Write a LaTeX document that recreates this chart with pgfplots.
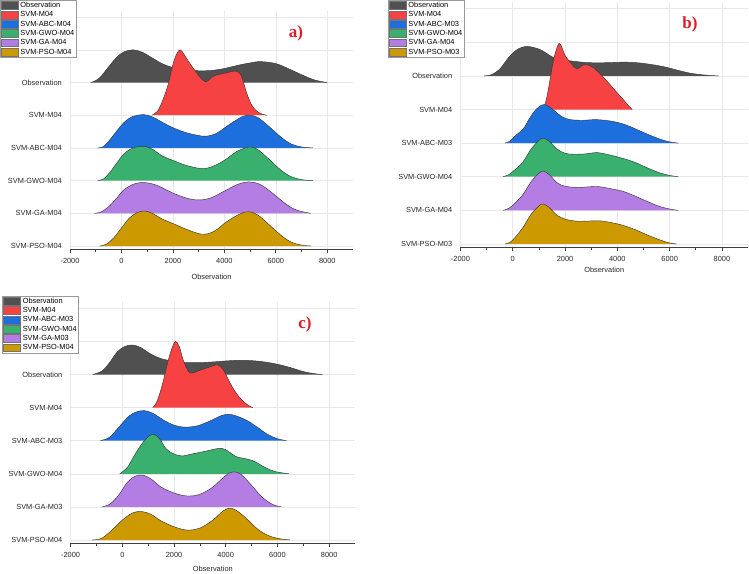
\documentclass[border=0pt]{standalone}
\usepackage{fontspec}
\setmainfont{Liberation Sans}
\newfontfamily\panelfont{Liberation Serif}
\usepackage{pgfplots}
\usepackage{pgfplotstable}
\pgfplotsset{compat=1.18}

\definecolor{cObs}{RGB}{80,80,80}
\definecolor{cM}{RGB}{246,66,66}
\definecolor{cABC}{RGB}{30,111,222}
\definecolor{cGWO}{RGB}{58,176,110}
\definecolor{cGA}{RGB}{180,125,228}
\definecolor{cPSO}{RGB}{205,153,0}
\definecolor{edge}{RGB}{55,55,55}
\definecolor{panelred}{RGB}{220,30,40}

% ---------- panel a ----------
\pgfplotstableread{
x h
-1200 0
-1000 0.06
-800 0.18
-500 0.48
-200 0.76
100 0.94
450 1.0
800 0.93
1200 0.75
1600 0.57
2000 0.46
2500 0.39
3000 0.36
3500 0.37
4000 0.43
4600 0.54
5000 0.6
5400 0.64
6000 0.58
6500 0.42
7000 0.24
7500 0.08
8000 0
}\aObs
\pgfplotstableread{
x h
1180 0
1400 0.12
1600 0.45
1800 0.9
2000 1.55
2150 1.88
2280 2.0
2420 1.88
2600 1.65
2900 1.32
3100 1.12
3290 1.02
3450 1.12
3650 1.22
4100 1.3
4420 1.35
4650 1.22
4850 0.72
5050 0.33
5250 0.13
5450 0.04
5650 0
}\aM
\pgfplotstableread{
x h
-930 0
-700 0.04
-450 0.25
-200 0.5
100 0.78
400 0.95
850 1.02
1200 0.95
1600 0.78
2000 0.62
2500 0.47
3000 0.38
3300 0.36
3700 0.45
4200 0.72
4700 0.96
5000 1.0
5300 0.93
5700 0.68
6200 0.33
6600 0.12
7000 0.03
7450 0
}\aABC
\pgfplotstableread{
x h
-930 0
-700 0.05
-450 0.25
-200 0.52
100 0.82
450 1.0
880 1.05
1200 0.96
1600 0.75
2000 0.62
2500 0.47
3100 0.37
3500 0.42
4000 0.62
4500 0.9
4990 1.03
5300 0.95
5700 0.68
6200 0.32
6600 0.12
7000 0.03
7450 0
}\aGWO
\pgfplotstableread{
x h
-1050 0
-800 0.04
-500 0.2
-200 0.45
100 0.72
500 0.9
920 0.94
1400 0.85
2000 0.62
2600 0.45
3060 0.41
3500 0.48
4000 0.68
4500 0.88
4950 0.96
5400 0.88
5900 0.6
6400 0.28
6800 0.1
7350 0
}\aGA
\pgfplotstableread{
x h
-860 0
-600 0.05
-300 0.25
0 0.55
300 0.85
600 1.02
900 1.07
1200 1.0
1600 0.82
2000 0.69
2500 0.52
3130 0.36
3600 0.45
4100 0.75
4600 0.98
4950 1.05
5300 0.95
5700 0.68
6200 0.33
6600 0.12
7000 0.03
7380 0
}\aPSO

% ---------- panel b ----------
\pgfplotstableread{
x h
-1090 0
-800 0.04
-500 0.2
-300 0.4
-100 0.6
200 0.8
535 0.88
1000 0.8
1300 0.67
1550 0.55
1900 0.48
2300 0.44
2800 0.4
3300 0.39
3800 0.4
4300 0.41
4800 0.39
5300 0.34
5800 0.27
6300 0.17
6800 0.08
7300 0.03
7860 0
}\bObs
\pgfplotstableread{
x h
1170 0
1300 0.35
1420 0.86
1530 1.35
1620 1.66
1770 1.97
1880 1.85
2000 1.61
2250 1.36
2450 1.21
2700 1.33
2850 1.33
3100 1.24
3350 1.05
3600 0.85
3900 0.58
4200 0.32
4400 0.14
4570 0
}\bM
\pgfplotstableread{
x h
-300 0
-100 0.06
100 0.22
400 0.42
600 0.68
800 0.92
1000 1.08
1200 1.15
1400 1.08
1600 0.96
1900 0.78
2200 0.7
2700 0.68
3200 0.7
3800 0.65
4300 0.55
4700 0.42
5200 0.25
5700 0.1
6000 0.04
6330 0
}\bABC
\pgfplotstableread{
x h
-380 0
-150 0.06
100 0.22
400 0.45
700 0.82
1000 1.08
1170 1.15
1400 1.05
1700 0.82
2000 0.7
2300 0.67
2800 0.68
3200 0.72
3700 0.65
4100 0.57
4600 0.45
5100 0.28
5600 0.12
6000 0.04
6330 0
}\bGWO
\pgfplotstableread{
x h
-360 0
-150 0.06
100 0.22
400 0.48
700 0.85
1000 1.1
1170 1.17
1400 1.06
1700 0.82
2000 0.72
2500 0.68
3200 0.71
3700 0.65
4200 0.57
4600 0.45
5100 0.28
5600 0.12
6000 0.04
6330 0
}\bGA
\pgfplotstableread{
x h
-290 0
-100 0.05
100 0.2
400 0.5
700 0.88
1000 1.13
1170 1.19
1400 1.08
1700 0.85
2000 0.74
2400 0.68
2900 0.68
3300 0.69
3800 0.63
4230 0.55
4700 0.42
5200 0.25
5700 0.1
6000 0.03
6270 0
}\bPSO

% ---------- panel c ----------
\pgfplotstableread{
x h
-1150 0
-800 0.1
-500 0.35
-200 0.68
100 0.85
400 0.89
700 0.82
1100 0.62
1500 0.48
2000 0.4
2500 0.36
3000 0.36
3500 0.38
4000 0.41
4500 0.43
5000 0.42
5500 0.38
6000 0.31
6500 0.21
7000 0.09
7400 0.03
7750 0
}\cObsT
\pgfplotstableread{
x h
1180 0
1350 0.2
1550 0.7
1750 1.35
1900 1.75
2050 2.0
2200 1.85
2350 1.45
2550 1.1
2700 1.04
2900 1.1
3200 1.18
3500 1.26
3700 1.29
3900 1.15
4100 0.85
4350 0.5
4600 0.25
4850 0.08
5050 0
}\cM
\pgfplotstableread{
x h
-850 0
-500 0.1
-200 0.35
200 0.7
500 0.86
850 0.91
1200 0.82
1600 0.62
2000 0.47
2400 0.41
2900 0.45
3400 0.6
3800 0.75
4100 0.8
4400 0.75
4800 0.62
5200 0.42
5600 0.2
6000 0.06
6350 0
}\cABC
\pgfplotstableread{
x h
-100 0
200 0.2
500 0.6
800 0.95
1050 1.15
1250 1.19
1450 1.05
1700 0.75
2000 0.6
2300 0.54
2700 0.6
3200 0.68
3600 0.75
3850 0.77
4100 0.68
4400 0.52
4800 0.45
5100 0.38
5500 0.2
5900 0.07
6450 0
}\cGWO
\pgfplotstableread{
x h
-780 0
-450 0.1
-100 0.4
200 0.75
500 0.93
800 0.96
1100 0.85
1500 0.6
2000 0.42
2500 0.33
3000 0.38
3500 0.6
4000 0.95
4300 1.06
4600 0.98
5000 0.65
5400 0.3
5800 0.08
6150 0
}\cGA
\pgfplotstableread{
x h
-1180 0
-800 0.05
-400 0.3
0 0.6
400 0.82
750 0.86
1100 0.78
1500 0.58
2000 0.4
2500 0.3
3000 0.36
3500 0.6
3900 0.88
4150 0.96
4400 0.9
4800 0.65
5200 0.35
5600 0.15
6000 0.05
6490 0
}\cPSO

% one ridge: filled area on its baseline, then its outline
\newcommand{\ridge}[3]{%
  \addplot[fill=#2, draw=none, smooth, tension=0.55]
    table[x=x, y expr=\thisrow{h}+#3] {#1} -- cycle;
  \addplot[draw=edge, line width=0.45pt, smooth, tension=0.55, forget plot]
    table[x=x, y expr=\thisrow{h}+#3] {#1};
}

\pgfplotsset{
  ridgeaxis/.style={
    scale only axis,
    xmin=-2000, xmax=9000, ymin=-0.1, ymax=7.2,
    axis lines=left,
    axis line style={-, draw=black!75, line width=0.8pt},
    y axis line style={draw=none},
    xtick={-2000,0,...,8000}, minor x tick num=1,
    tick align=outside,
    major tick length=3.7pt, minor tick length=2.2pt,
    xtick style={draw=black!75, line width=0.7pt},
    ytick={0,...,7}, ytick style={draw=none},
    xmajorgrids, ymajorgrids,
    grid style={draw=black!9, line width=0.5pt},
    ticklabel style={font=\fontsize{7.4}{8}\selectfont, text=black!85},
    xticklabel style={yshift=-1.5pt},
    yticklabel style={xshift=-1pt},
    label style={font=\fontsize{7.4}{8}\selectfont, text=black!85},
    xlabel={Observation},
    /pgf/number format/assume math mode=true,
    /pgf/number format/1000 sep={},
    legend cell align=left,
    legend image code/.code={%
      \draw[##1, draw=black!55, line width=0.3pt] (0pt,-3.9pt) rectangle (17pt,3.9pt);},
    legend style={anchor=north west, draw=black!40, line width=0.4pt,
      inner xsep=0.6pt, inner ysep=0.6pt, column sep=1.2pt,
      font=\fontsize{7.4}{8}\selectfont,
      nodes={inner sep=1.15pt, text height=5.6pt, text depth=1.4pt}},
  },
}

\begin{document}
\begin{tikzpicture}
\useasboundingbox (0pt,0pt) rectangle (749pt,-573pt);

% ---------------- a) ----------------
\begin{axis}[ridgeaxis,
  at={(70pt,-249.3pt)}, anchor=south west, width=283pt, height=238.7pt,
  xlabel style={yshift=-3.7pt},
  yticklabels={SVM-PSO-M04,SVM-GA-M04,SVM-GWO-M04,SVM-ABC-M04,SVM-M04,Observation,{},{}},
  legend style={at={(-0.2473,1.0444)}},
  legend entries={Observation,SVM-M04,SVM-ABC-M04,SVM-GWO-M04,SVM-GA-M04,SVM-PSO-M04}]
\ridge{\aObs}{cObs}{5}
\ridge{\aM}{cM}{4}
\ridge{\aABC}{cABC}{3}
\ridge{\aGWO}{cGWO}{2}
\ridge{\aGA}{cGA}{1}
\ridge{\aPSO}{cPSO}{0}
\end{axis}
\node[text=panelred, font=\panelfont\bfseries\fontsize{17}{17}\selectfont] at (296pt,-33.5pt) {a)};

% ---------------- b) ----------------
\begin{axis}[ridgeaxis,
  at={(460.4pt,-247.3pt)}, anchor=south west, width=287.7pt, height=245.3pt,
  xlabel style={yshift=1pt},
  yticklabels={SVM-PSO-M03,SVM-GA-M04,SVM-GWO-M04,SVM-ABC-M03,SVM-M04,Observation,{},{}},
  legend style={at={(-0.2517,1.0082)}},
  legend entries={Observation,SVM-M04,SVM-ABC-M03,SVM-GWO-M04,SVM-GA-M04,SVM-PSO-M03}]
\ridge{\bObs}{cObs}{5}
\ridge{\bM}{cM}{4}
\ridge{\bABC}{cABC}{3}
\ridge{\bGWO}{cGWO}{2}
\ridge{\bGA}{cGA}{1}
\ridge{\bPSO}{cPSO}{0}
\end{axis}
\node[text=panelred, font=\panelfont\bfseries\fontsize{17}{17}\selectfont] at (690pt,-24pt) {b)};

% ---------------- c) ----------------
\begin{axis}[ridgeaxis,
  at={(70.6pt,-543.3pt)}, anchor=south west, width=284.4pt, height=241.6pt,
  xlabel style={yshift=-1.5pt},
  yticklabels={SVM-PSO-M04,SVM-GA-M03,SVM-GWO-M04,SVM-ABC-M03,SVM-M04,Observation,{},{}},
  legend style={at={(-0.2400,1.0248)}},
  legend entries={Observation,SVM-M04,SVM-ABC-M03,SVM-GWO-M04,SVM-GA-M03,SVM-PSO-M04}]
\ridge{\cObsT}{cObs}{5}
\ridge{\cM}{cM}{4}
\ridge{\cABC}{cABC}{3}
\ridge{\cGWO}{cGWO}{2}
\ridge{\cGA}{cGA}{1}
\ridge{\cPSO}{cPSO}{0}
\end{axis}
\node[text=panelred, font=\panelfont\bfseries\fontsize{17}{17}\selectfont] at (305pt,-324.5pt) {c)};
\end{tikzpicture}
\end{document}
